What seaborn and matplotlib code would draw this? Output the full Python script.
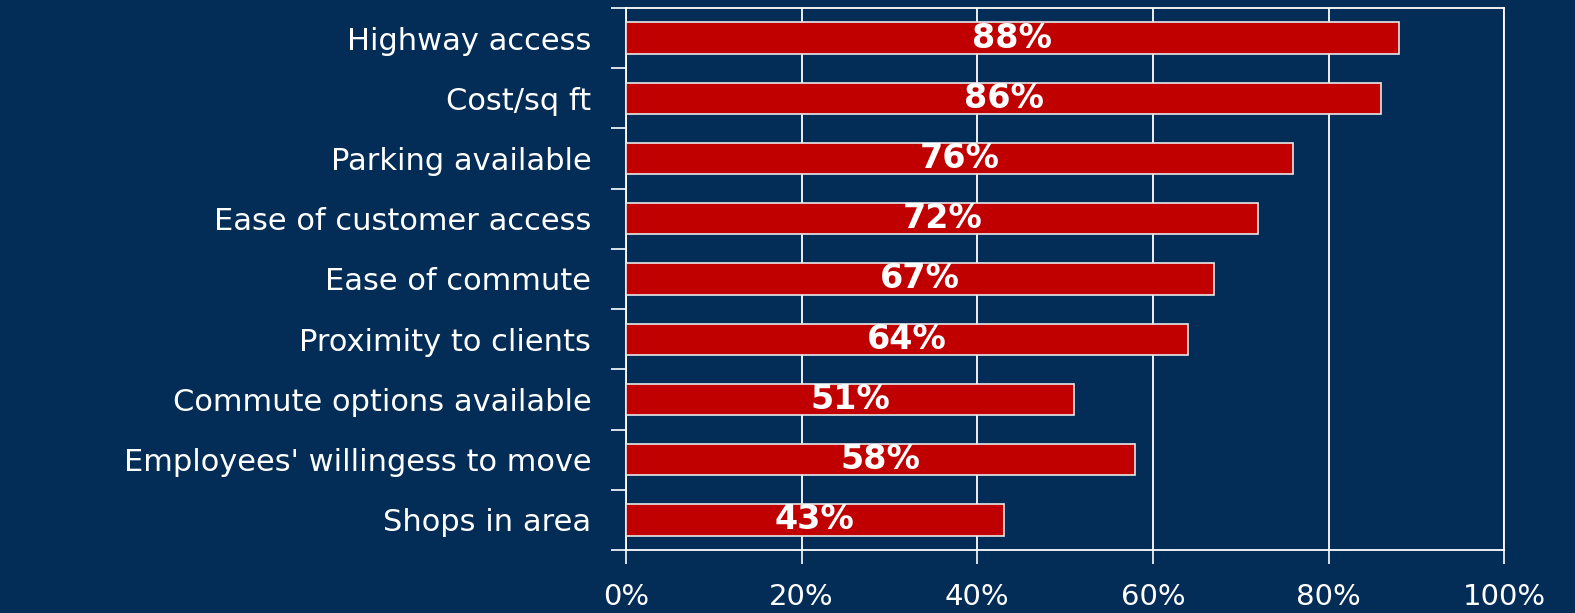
import matplotlib
matplotlib.use("Agg")
import matplotlib.pyplot as plt
import seaborn as sns
import pandas as pd
import numpy as np

categories = [
    "Highway access",
    "Cost/sq ft",
    "Parking available",
    "Ease of customer access",
    "Ease of commute",
    "Proximity to clients",
    "Commute options available",
    "Employees' willingess to move",
    "Shops in area",
]
values = [88, 86, 76, 72, 67, 64, 51, 58, 43]
x_ticks = [0, 20, 40, 60, 80, 100]
x_tick_labels = ["0%", "20%", "40%", "60%", "80%", "100%"]

BG = "#032d56"
BAR = "#c00000"
WHITE = "#ffffff"

sns.set_theme(style="white")
plt.rcParams["font.family"] = ["DejaVu Sans"]

df = pd.DataFrame({"factor": categories, "pct": values})

fig = plt.figure(figsize=(15.75, 6.13), dpi=100, facecolor=BG)
ax = fig.add_axes([0.3975, 0.1028, 0.955 - 0.3975, 0.987 - 0.1028])
ax.set_facecolor(BG)

sns.barplot(data=df, x="pct", y="factor", orient="h", color=BAR,
            saturation=1, width=0.52, edgecolor="#e8e8e8", linewidth=1.2,
            ax=ax, zorder=3)

ax.set_xlim(0, 100)
ax.set_ylim(len(categories) - 0.5, -0.5)

# vertical gridlines
ax.set_xticks(x_ticks)
ax.set_xticklabels(x_tick_labels, color=WHITE, fontsize=21)
ax.xaxis.grid(True, color=WHITE, linewidth=1.3, zorder=0)
ax.yaxis.grid(False)
ax.tick_params(axis="x", length=10, width=1.2, color=WHITE, pad=14, bottom=True)

# category labels, with ticks on the boundaries between rows
ax.set_yticks(range(len(categories)))
ax.set_yticklabels(categories, color=WHITE, fontsize=22)
ax.tick_params(axis="y", which="major", length=0, pad=25)
ax.set_yticks(np.arange(-0.5, len(categories), 1.0), minor=True)
ax.tick_params(axis="y", which="minor", length=11, width=1.2, color=WHITE, left=True)

for side in ["left", "bottom", "top", "right"]:
    ax.spines[side].set_visible(True)
    ax.spines[side].set_color(WHITE)
    ax.spines[side].set_linewidth(1.3)

ax.set_xlabel("")
ax.set_ylabel("")

# value labels centred on each bar
for container in ax.containers:
    ax.bar_label(container, labels=[f"{v}%" for v in values], label_type="center",
                 color=WHITE, fontsize=24, fontweight="bold")

fig.savefig("out.png", dpi=100, facecolor=BG)
